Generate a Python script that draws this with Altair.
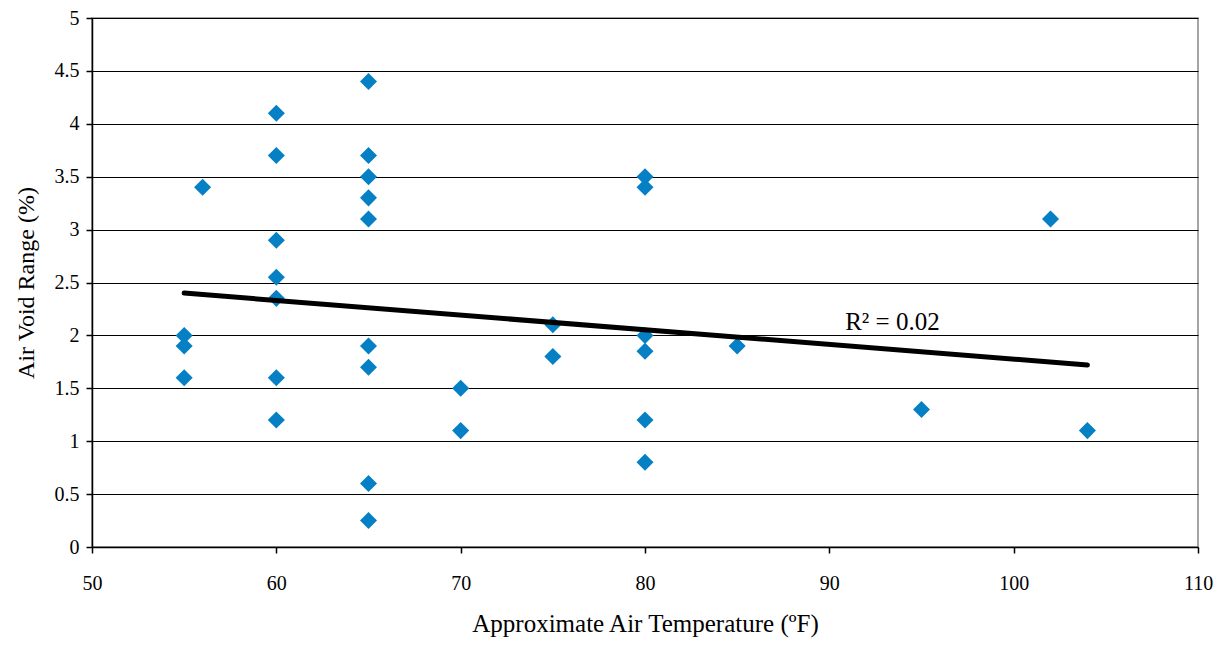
import altair as alt
import pandas as pd

temps = [55, 55, 55, 56,
         60, 60, 60, 60, 60, 60, 60,
         65, 65, 65, 65, 65, 65, 65, 65, 65,
         70, 70, 75, 75,
         80, 80, 80, 80, 80, 80,
         85, 95, 102, 104]
voids = [2.0, 1.9, 1.6, 3.4,
         4.1, 3.7, 2.9, 2.55, 2.35, 1.6, 1.2,
         4.4, 3.7, 3.5, 3.3, 3.1, 1.9, 1.7, 0.6, 0.25,
         1.5, 1.1, 2.1, 1.8,
         3.5, 3.4, 2.0, 1.85, 1.2, 0.8,
         1.9, 1.3, 3.1, 1.1]

trend_x = [55, 104]
trend_y = [2.40, 1.72]

label_x = [90.86]
label_y = [2.05]
label_text = ["R\u00b2 = 0.02"]

x_ticks = [50, 60, 70, 80, 90, 100, 110]
y_ticks = [0, 0.5, 1, 1.5, 2, 2.5, 3, 3.5, 4, 4.5, 5]

pts = pd.DataFrame({"t": temps, "v": voids})
trend = pd.DataFrame({"t": trend_x, "v": trend_y})
lab = pd.DataFrame({"t": label_x, "v": label_y, "s": label_text})

FONT = "Liberation Serif"

xs = alt.Scale(domain=[50, 110], nice=False, zero=False)
ys = alt.Scale(domain=[0, 5], nice=False)

common = dict(domainColor="black", tickColor="black", tickSize=6,
              domainWidth=1.5, tickWidth=1.5,
              labelFont=FONT, labelFontSize=20, labelColor="black",
              titleFont=FONT, titleFontWeight="normal", titleColor="black",
              labelFlush=False)

xax = alt.Axis(values=x_ticks, grid=False,
               title="Approximate Air Temperature (\u00baF)",
               labelPadding=20, titlePadding=18, titleFontSize=25, **common)
yax = alt.Axis(values=y_ticks, grid=True,
               gridColor="black", gridWidth=1.2, gridOpacity=1,
               title="Air Void Range (%)", labelExpr="datum.value",
               labelPadding=7, titlePadding=16, titleFontSize=24, **common)

points = alt.Chart(pts).mark_point(shape="diamond", filled=True, size=290,
                                   color="#0580C4", opacity=1).encode(
    x=alt.X("t:Q", scale=xs, axis=xax),
    y=alt.Y("v:Q", scale=ys, axis=yax),
)

line = alt.Chart(trend).mark_line(color="black", strokeWidth=5,
                                  strokeCap="round").encode(
    x=alt.X("t:Q", scale=xs, axis=xax),
    y=alt.Y("v:Q", scale=ys, axis=yax),
)

text = alt.Chart(lab).mark_text(font=FONT, fontSize=25, align="left",
                                baseline="alphabetic", color="black").encode(
    x=alt.X("t:Q", scale=xs, axis=xax),
    y=alt.Y("v:Q", scale=ys, axis=yax),
    text="s:N",
)

chart = alt.layer(points, line, text).properties(
    width=1106, height=529,
    autosize=alt.AutoSizeParams(type="none"),
    padding={"left": 84, "top": 10, "right": 18, "bottom": 95},
    background="white",
).configure_view(stroke="#888888", strokeWidth=1.5)

chart.save("out.html", embed_options={"renderer": "svg", "actions": False})
